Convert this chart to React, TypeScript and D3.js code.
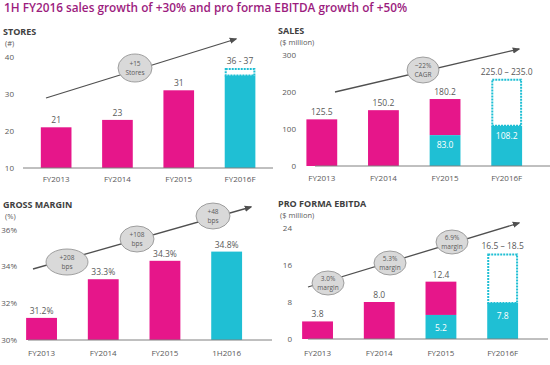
import React from "react";
import * as d3 from "d3";

const MAGENTA = "#e6168a";
const CYAN = "#1fbfd4";
const TEXT = "#595959";

// ---- data ----
const storesCats = ["FY2013", "FY2014", "FY2015", "FY2016F"];
const storesTotal = [21, 23, 31, 37];
const storesCyan = [0, 0, 0, 35];
const storesForecast = [false, false, false, true];
const storesLabels = ["21", "23", "31", "36 - 37"];
const storesInner = ["", "", "", ""];
const storesTicks = [10, 20, 30, 40];

const salesCats = ["FY2013", "FY2014", "FY2015", "FY2016F"];
const salesTotal = [125.5, 150.2, 180.2, 235.0];
const salesCyan = [0, 0, 83.0, 108.2];
const salesForecast = [false, false, false, true];
const salesLabels = ["125.5", "150.2", "180.2", "225.0 – 235.0"];
const salesInner = ["", "", "83.0", "108.2"];
const salesTicks = [0, 100, 200, 300];

const gmCats = ["FY2013", "FY2014", "FY2015", "1H2016"];
const gmTotal = [31.2, 33.3, 34.3, 34.8];
const gmCyan = [0, 0, 0, 34.8];
const gmForecast = [false, false, false, false];
const gmLabels = ["31.2%", "33.3%", "34.3%", "34.8%"];
const gmInner = ["", "", "", ""];
const gmTicks = [30, 32, 34, 36];

const ebCats = ["FY2013", "FY2014", "FY2015", "FY2016F"];
const ebTotal = [3.8, 8.0, 12.4, 18.5];
const ebCyan = [0, 0, 5.2, 7.8];
const ebForecast = [false, false, false, true];
const ebLabels = ["3.8", "8.0", "12.4", "16.5 – 18.5"];
const ebInner = ["", "", "5.2", "7.8"];
const ebTicks = [0, 8, 16, 24];

type Bubble = { cx: number; cy: number; rx: number; ry: number; lines: string[] };

type PanelCfg = {
  title: string;
  unit: string;
  titleX: number;
  titleY: number;
  cats: string[];
  total: number[];
  cyan: number[];
  forecast: boolean[];
  labels: string[];
  inner: string[];
  innerOffset: number;
  ticks: number[];
  tickFmt: (v: number) => string;
  yDomain: [number, number];
  yRange: [number, number];
  xRange: [number, number];
  tickX: number;
  baseX: [number, number];
  catY: number;
  arrow: [number, number, number, number];
  bubbles: Bubble[];
};

function Panel({ c }: { c: PanelCfg }) {
  const y = d3.scaleLinear().domain(c.yDomain).range(c.yRange);
  const x = d3
    .scaleBand<string>()
    .domain(c.cats)
    .range(c.xRange)
    .paddingInner(0.5)
    .paddingOuter(0.25);
  const bw = x.bandwidth();
  const base = c.yDomain[0];
  return (
    <g>
      <text x={c.titleX} y={c.titleY} fontSize={9} fontWeight="bold" fill="#404040">
        {c.title}
      </text>
      <text x={c.titleX + 2} y={c.titleY + 11} fontSize={7.5} fill={TEXT}>
        {c.unit}
      </text>
      {c.ticks.map((t) => (
        <text key={t} x={c.tickX} y={y(t) + 3} fontSize={8} fill={TEXT} textAnchor="end">
          {c.tickFmt(t)}
        </text>
      ))}
      {c.cats.map((cat, i) => {
        const x0 = x(cat)!;
        const cyanTop = c.cyan[i] > base ? y(c.cyan[i]) : y(base);
        const totTop = y(c.total[i]);
        return (
          <g key={cat}>
            {c.forecast[i] ? (
              <rect
                x={x0 + 1}
                y={totTop + 1}
                width={bw - 2}
                height={cyanTop - totTop - 1}
                fill="white"
                stroke={CYAN}
                strokeWidth={2}
                strokeDasharray="2,1"
              />
            ) : (
              c.total[i] > c.cyan[i] && (
                <rect x={x0} y={totTop} width={bw} height={cyanTop - totTop} fill={MAGENTA} />
              )
            )}
            {c.cyan[i] > base && (
              <rect x={x0} y={cyanTop} width={bw} height={y(base) - cyanTop} fill={CYAN} />
            )}
            <text
              x={x0 + bw / 2}
              y={totTop - 4}
              fontSize={8.5}
              fill={TEXT}
              textAnchor="middle"
            >
              {c.labels[i]}
            </text>
            {c.inner[i] && (
              <text
                x={x0 + bw / 2}
                y={cyanTop + c.innerOffset}
                fontSize={8.5}
                fill="white"
                textAnchor="middle"
              >
                {c.inner[i]}
              </text>
            )}
            <text x={x0 + bw / 2} y={c.catY} fontSize={8} fill={TEXT} textAnchor="middle">
              {cat}
            </text>
          </g>
        );
      })}
      <line
        x1={c.baseX[0]}
        x2={c.baseX[1]}
        y1={y(base)}
        y2={y(base)}
        stroke="#808080"
        strokeWidth={1}
      />
      <line
        x1={c.arrow[0]}
        y1={c.arrow[1]}
        x2={c.arrow[2]}
        y2={c.arrow[3]}
        stroke="#505050"
        strokeWidth={1.3}
        markerEnd="url(#arrowhead)"
      />
      {c.bubbles.map((b, i) => (
        <g key={i}>
          <ellipse cx={b.cx} cy={b.cy} rx={b.rx} ry={b.ry} fill="#d9d9d9" stroke="#8c8c8c" strokeWidth={0.8} />
          {b.lines.map((l, j) => (
            <text
              key={j}
              x={b.cx}
              y={b.cy + (j - (b.lines.length - 1) / 2) * 8.5 + 2.5}
              fontSize={6.5}
              fill={TEXT}
              textAnchor="middle"
            >
              {l}
            </text>
          ))}
        </g>
      ))}
    </g>
  );
}

const panels: PanelCfg[] = [
  {
    title: "STORES",
    unit: "(#)",
    titleX: 3,
    titleY: 35,
    cats: storesCats,
    total: storesTotal,
    cyan: storesCyan,
    forecast: storesForecast,
    labels: storesLabels,
    inner: storesInner,
    innerOffset: 12,
    ticks: storesTicks,
    tickFmt: (v) => String(v),
    yDomain: [10, 40],
    yRange: [168, 57],
    xRange: [25.5, 270.7],
    tickX: 14,
    baseX: [23, 273],
    catY: 182,
    arrow: [46, 98, 236, 39],
    bubbles: [{ cx: 135, cy: 68, rx: 17, ry: 14, lines: ["+15", "Stores"] }],
  },
  {
    title: "SALES",
    unit: "($ million)",
    titleX: 278,
    titleY: 34,
    cats: salesCats,
    total: salesTotal,
    cyan: salesCyan,
    forecast: salesForecast,
    labels: salesLabels,
    inner: salesInner,
    innerOffset: 13,
    ticks: salesTicks,
    tickFmt: (v) => String(v),
    yDomain: [0, 300],
    yRange: [166, 54.5],
    xRange: [291, 537.5],
    tickX: 296,
    baseX: [315, 550],
    catY: 181,
    arrow: [335, 92, 519, 49],
    bubbles: [{ cx: 423, cy: 70, rx: 16, ry: 13, lines: ["~22%", "CAGR"] }],
  },
  {
    title: "GROSS MARGIN",
    unit: "(%)",
    titleX: 3,
    titleY: 208,
    cats: gmCats,
    total: gmTotal,
    cyan: gmCyan,
    forecast: gmForecast,
    labels: gmLabels,
    inner: gmInner,
    innerOffset: 12,
    ticks: gmTicks,
    tickFmt: (v) => `${v}%`,
    yDomain: [30, 36],
    yRange: [340, 229.5],
    xRange: [10.7, 257.5],
    tickX: 17,
    baseX: [28, 272],
    catY: 356,
    arrow: [33, 269, 251, 207],
    bubbles: [
      { cx: 67, cy: 262, rx: 21, ry: 13, lines: ["+208", "bps"] },
      { cx: 137, cy: 239, rx: 17, ry: 13, lines: ["+108", "bps"] },
      { cx: 213, cy: 216, rx: 17, ry: 13, lines: ["+48", "bps"] },
    ],
  },
  {
    title: "PRO FORMA EBITDA",
    unit: "($ million)",
    titleX: 278,
    titleY: 207,
    cats: ebCats,
    total: ebTotal,
    cyan: ebCyan,
    forecast: ebForecast,
    labels: ebLabels,
    inner: ebInner,
    innerOffset: 16,
    ticks: ebTicks,
    tickFmt: (v) => String(v),
    yDomain: [0, 24],
    yRange: [339, 228],
    xRange: [286.7, 533.5],
    tickX: 292,
    baseX: [308, 548],
    catY: 356,
    arrow: [308, 287, 519, 223],
    bubbles: [
      { cx: 328, cy: 283, rx: 16, ry: 12, lines: ["3.0%", "margin"] },
      { cx: 390, cy: 263, rx: 16, ry: 12, lines: ["5.3%", "margin"] },
      { cx: 452, cy: 242, rx: 16, ry: 12, lines: ["6.9%", "margin"] },
    ],
  },
];

export default function App() {
  return (
    <svg
      width={550}
      height={365}
      style={{ position: "absolute", left: 0, top: 0, background: "white" }}
      fontFamily="'Open Sans', sans-serif"
    >
      <defs>
        <marker
          id="arrowhead"
          viewBox="0 0 10 10"
          refX={8}
          refY={5}
          markerWidth={6}
          markerHeight={6}
          orient="auto"
        >
          <path d="M0,1 L10,5 L0,9 z" fill="#505050" />
        </marker>
      </defs>
      <rect width={550} height={365} fill="white" />
      <text x={4} y={12} fontSize={11.8} fontWeight={600} fill="#9c1c7e">
        1H FY2016 sales growth of +30% and pro forma EBITDA growth of +50%
      </text>
      {panels.map((p) => (
        <Panel key={p.title} c={p} />
      ))}
    </svg>
  );
}
